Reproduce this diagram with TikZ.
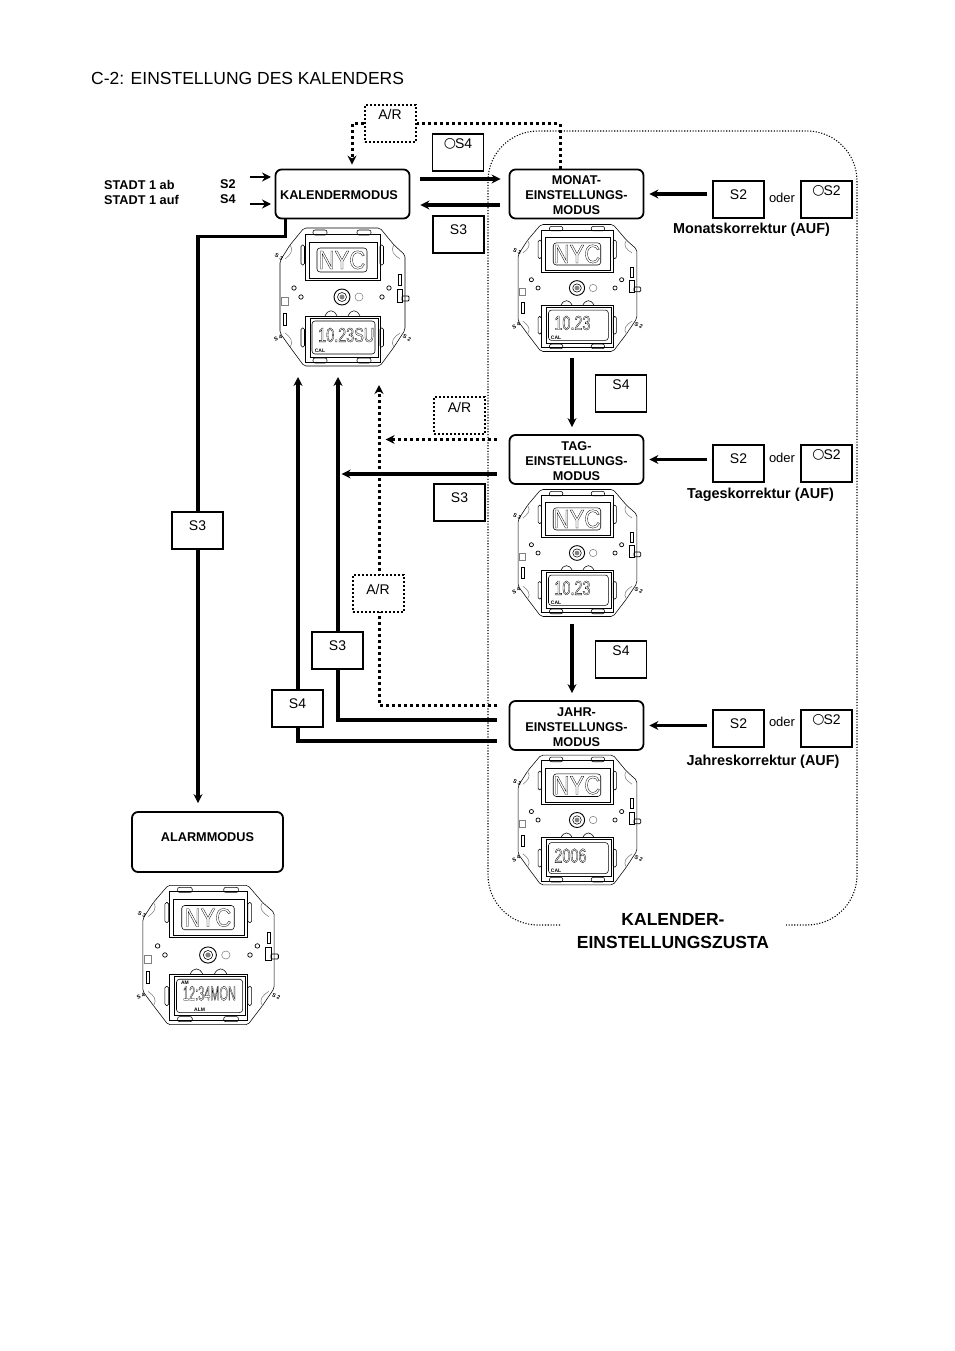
\documentclass[tikz,border=0pt]{standalone}
\usepackage{fontspec}
\setmainfont{Liberation Sans}
\newfontfamily\lcdfont[FakeStretch=.72]{Liberation Sans}
\newfontfamily\nycfont[FakeStretch=.85]{Liberation Sans}
\newfontfamily\ringfont{DejaVu Sans}
\usetikzlibrary{arrows.meta}
\usetikzlibrary{backgrounds}
\newcommand{\hohl}[1]{\special{pdf:code 1 Tr .3 w}#1\special{pdf:code 0 Tr}}
\newcommand{\ring}{\raisebox{1pt}{\ringfont\fontsize{14}{16}\selectfont ○}\hspace{-1pt}}
\newcommand{\modetop}{\rule{0pt}{12pt}}
\tikzset{>={Stealth[length=9pt,width=9pt]}}
\tikzset{
  modebox/.style={draw,line width=1.8pt,rounded corners=6pt,fill=white,inner sep=0pt,minimum width=134pt,minimum height=49pt,align=center,font=\fontsize{12.7}{15}\selectfont\bfseries},
  keybox/.style={draw,line width=1.8pt,fill=white,anchor=north,minimum width=51pt,inner xsep=0pt,inner ysep=0pt,text height=19pt,text depth=18pt,font=\fontsize{14}{16}\selectfont},
  hikey/.style={keybox,text height=15pt,text depth=22pt},
  arbox/.style={hikey,line width=2pt,dash pattern=on 2pt off 2pt},
  solidarr/.style={->,line width=3.2pt},
  dotarr/.style={->,line width=3pt,dash pattern=on 3pt off 3pt},
  smallarr/.style={->,line width=2.2pt},
  oder/.style={font=\fontsize{13}{15}\selectfont},
  korr/.style={font=\fontsize{14.4}{16}\selectfont\bfseries},
  stadt/.style={anchor=west,inner sep=0pt,font=\fontsize{12.7}{14}\selectfont\bfseries},
  wire/.style={line width=.55pt},
  tinylab/.style={inner sep=0pt,font=\fontsize{5.5}{6}\selectfont\bfseries},
  pics/watch/.style n args={4}{code={
    \draw[wire,rounded corners=2pt] (-38,-69) -- (38,-69) -- (52,-52) -- (63,-42) -- (63,33) -- (52,50) -- (38,69) -- (-38,69) -- (-52,50) -- (-62,36) -- (-62,-36) -- (-52,-52) -- cycle;
    \draw[wire,gray] (-52,-52) .. controls (-48,-46) and (-52,-42) .. (-57,-38);
    \draw[wire,gray] (52,-52) .. controls (48,-46) and (52,-42) .. (58,-38);
    \draw[wire,gray] (-52,50) .. controls (-48,44) and (-52,40) .. (-57,36);
    \draw[wire,gray] (52,50) .. controls (48,44) and (52,40) .. (58,36);
    % upper display
    \draw[line width=.9pt] (-37,-63) rectangle (38,-17);
    \draw[line width=.9pt] (-33,-55) rectangle (35,-19);
    \draw[wire,rounded corners=3pt] (-25,-49) rectangle (25,-25);
    \node[inner sep=0pt] (nyc) at (0,-37) {\nycfont\fontsize{26}{26}\selectfont\hohl{NYC}};
    % lower display
    \draw[line width=.9pt] (-37,19) rectangle (38,65);
    \draw[line width=.9pt] (-32,21) rectangle (36,60);
    \draw[wire,rounded corners=3pt] (-30,24) rectangle (33,57);
    \node[inner sep=0pt,anchor=west] (lcd) at (-24,38) {\lcdfont\fontsize{20}{20}\selectfont\hohl{#1}};
    \node[inner sep=0pt,font=\fontsize{5}{6}\selectfont\bfseries] (top) at (-22,27) {#2};
    \node[inner sep=0pt,font=\fontsize{5}{6}\selectfont\bfseries] (bot) at (#4,54) {#3};
    % lugs
    \foreach \px in {-29,15} {
      \draw[wire,rounded corners=2pt] (\px,-67) rectangle ++(14,5);
      \draw[wire,rounded corners=2pt] (\px,61) rectangle ++(14,5);
    }
    \foreach \px in {-41,38} {
      \draw[wire,rounded corners=1.5pt] (\px,-52) rectangle ++(3.5,20);
      \draw[wire,rounded corners=1.5pt] (\px,31) rectangle ++(3.5,19);
    }
    \draw[wire] (-17,19) .. controls (-14,12) and (-8,12) .. (-5,19);
    \draw[wire] (6,19) .. controls (9,12) and (15,12) .. (18,19);
    % centre
    \draw[line width=.9pt] (0,0) circle (8);
    \draw[wire] (0,0) circle (4.5);
    \fill[gray] (0,0) circle (2.5);
    \draw[wire,gray] (17,0) circle (4);
    \foreach \px/\py in {-48/-9,-41/0,47/-9,40/0} \draw[line width=.7pt] (\px,\py) circle (2.2);
    % switch
    \draw[wire] (56,-23) rectangle (59,-12);
    \draw[wire] (55,-8) rectangle (60,5);
    \draw[line width=.8pt,rounded corners=1pt] (60,-1) rectangle (67,4);
    \draw[wire,gray] (-61,0) rectangle (-54,8);
    \draw[wire] (-59,16) rectangle (-56,28);
    \node[tinylab,rotate=-25] (sa) at (-63,-40) {S 3};
    \node[tinylab,rotate=25] (sb) at (-64,41) {S 4};
    \node[tinylab,rotate=-25] (sc) at (65,41) {S 2};
  }}
}
\begin{document}
\begin{tikzpicture}[x=1pt,y=-1pt]
    \useasboundingbox (0,0) rectangle (954,1351);
    \node[anchor=west,inner sep=0pt,font=\fontsize{17.5}{20}\selectfont] (title) at (91,78) {C-2: EINSTELLUNG DES KALENDERS};
    \node[stadt] (stadtab) at (104,184.5) {STADT 1 ab};
    \node[stadt] (stadtauf) at (104,199.5) {STADT 1 auf};
    \node[stadt] (stadtsz) at (220,184.5) {S2};
    \node[stadt] (stadtsv) at (220,199.5) {S4};
    % modes
    \node[modebox] (kal) at (342.5,194) {\modetop KALENDERMODUS\hspace*{7pt}};
    \node[modebox] (mon) at (576.5,194) {\modetop MONAT-\\EINSTELLUNGS-\\MODUS};
    \node[modebox] (tag) at (576.5,459.5) {\modetop TAG-\\EINSTELLUNGS-\\MODUS};
    \node[modebox] (jahr) at (576.5,725.5) {\modetop JAHR-\\EINSTELLUNGS-\\MODUS};
    \node[modebox,minimum width=151pt,minimum height=0pt,text height=29pt,text depth=31pt] (alm) at (207.5,842) {ALARMMODUS};
    % watches
    \pic (wkal) at (342,297) {watch={10.23SU}{}{CAL}{-22}};
    \pic[xscale=.95,yscale=.92] (wmon) at (577,288) {watch={10.23}{}{CAL}{-22}};
    \pic[xscale=.95,yscale=.92] (wtag) at (577,553) {watch={10.23}{}{CAL}{-22}};
    \pic[xscale=.95,yscale=.94] (wjahr) at (577,820) {watch={2006}{}{CAL}{-22}};
    \pic[xscale=1.05,yscale=1.01] (walm) at (208,955) {watch={\scalebox{.76}[1]{12:34MON}}{AM}{ALM}{-8}};
    % keys
    \node[arbox] (arkal) at (390,104) {A/R};
    \node[hikey] (sfkal) at (458,133) {\ring S4};
    \node[keybox] (sdkal) at (458.5,215) {S3};
    \node[keybox] (szmon) at (738.5,180) {S2};
    \node[hikey] (ozmon) at (826.5,180) {\ring S2};
    \node[hikey] (sfmon) at (621,374) {S4};
    \node[arbox] (artag) at (459.5,396) {A/R};
    \node[keybox] (sdtag) at (459.5,483) {S3};
    \node[keybox] (sztag) at (738.5,444) {S2};
    \node[hikey] (oztag) at (826.5,444) {\ring S2};
    \node[keybox] (sdalm) at (197.5,511) {S3};
    \node[arbox,text height=19pt,text depth=18pt] (arjahr) at (378,574) {A/R};
    \node[keybox] (sdjahr) at (337.5,631) {S3};
    \node[keybox] (sfjahr) at (297.5,689) {S4};
    \node[hikey] (sftag) at (621,640) {S4};
    \node[keybox] (szjahr) at (738.5,709) {S2};
    \node[hikey] (ozjahr) at (826.5,709) {\ring S2};
    % texts
    \node[oder] (omon) at (782,198) {oder};
    \node[oder] (otag) at (782,458) {oder};
    \node[oder] (ojahr) at (782,722) {oder};
    \node[korr] (kmon) at (751.5,229.5) {Monatskorrektur (AUF)};
    \node[korr] (ktag) at (760.5,494.5) {Tageskorrektur (AUF)};
    \node[korr] (kjahr) at (763,761.5) {Jahreskorrektur (AUF)};
    \node[inner sep=0pt,align=center,font=\fontsize{17.5}{23}\selectfont\bfseries] (zust) at (673,931) {KALENDER-\\EINSTELLUNGSZUSTA};
    % free ends
    \coordinate (ea) at (250,177);
    \coordinate (eb) at (250,204);
    \coordinate (mt) at (572,358);
    \coordinate (tj) at (572,624);
    \coordinate (ua) at (298,377);
    \coordinate (ub) at (338,377);
    \coordinate (uc) at (379,385);
    \begin{scope}[on background layer]
      \draw[line width=1.1pt,dash pattern=on 1.1pt off 1.7pt,rounded corners=50pt] (560,925) -| (488,131) -| (857,925) -- (786,925);
      \draw[smallarr] (ea) -- ++(21,0);
      \draw[smallarr] (eb) -- ++(21,0);
      \draw[dotarr,-] ([xshift=-16.5pt]mon.north) |- (arkal.east);
      \draw[dotarr] (arkal.west) -| ([xshift=9.5pt,yshift=4pt]kal.north);
      \draw[solidarr] ([xshift=10pt,yshift=15pt]kal.east) -- ([xshift=-8pt,yshift=15pt]mon.west);
      \draw[solidarr] ([xshift=-9pt,yshift=-11pt]mon.west) -- ([xshift=10pt,yshift=-11pt]kal.east);
      \draw[solidarr] ([xshift=-57pt]kal.south) -- ++(0,17) -| ([xshift=-9.5pt,yshift=8pt]alm.north);
      \draw[solidarr] (mt) -- ([xshift=-4.5pt,yshift=7pt]tag.north);
      \draw[solidarr] (tj) -- ([xshift=-4.5pt,yshift=7pt]jahr.north);
      \draw[solidarr] ([xshift=63pt]mon.east) -- ([xshift=5pt]mon.east);
      \draw[solidarr] ([xshift=63pt]tag.east) -- ([xshift=5pt]tag.east);
      \draw[solidarr] ([xshift=63pt]jahr.east) -- ([xshift=5pt]jahr.east);
      \draw[dotarr] ([xshift=-12pt,yshift=20pt]tag.west) -- ++(-111,0);
      \draw[solidarr] ([xshift=-12pt,yshift=-14.5pt]tag.west) -- ++(-155,0);
      \draw[dotarr] ([xshift=-12pt,yshift=20.5pt]jahr.west) -| (uc);
      \draw[solidarr] ([xshift=-12pt,yshift=5.5pt]jahr.west) -| (ub);
      \draw[solidarr] ([xshift=-12pt,yshift=-15.5pt]jahr.west) -| (ua);
    \end{scope}
\end{tikzpicture}
\end{document}
